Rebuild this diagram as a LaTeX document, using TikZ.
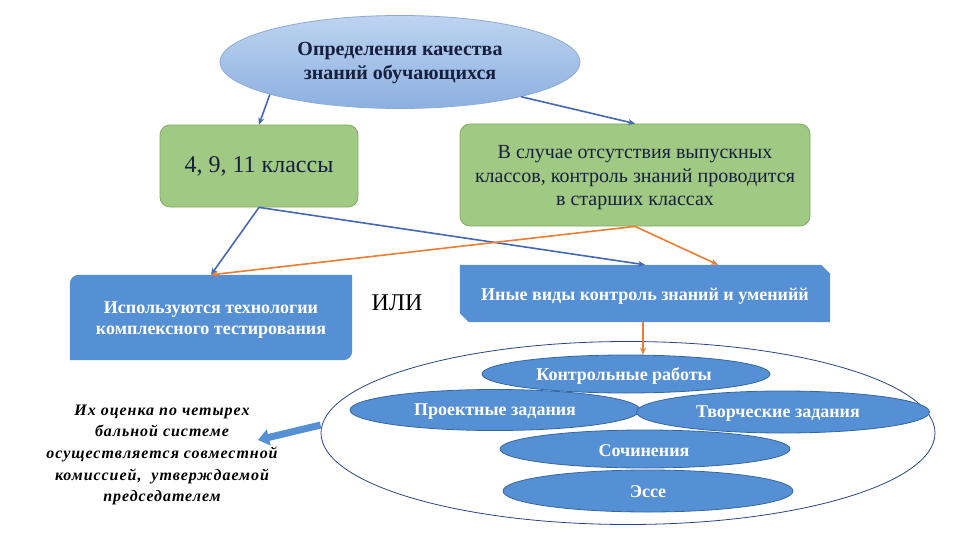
\documentclass[tikz,border=0pt]{standalone}
\usepackage{fontspec}
\setmainfont{Liberation Serif}
\usetikzlibrary{shapes.geometric,arrows.meta}
\definecolor{navy}{RGB}{22,32,62}
\definecolor{gfill}{RGB}{160,201,131}
\definecolor{gline}{RGB}{128,172,98}
\definecolor{bfill}{RGB}{86,144,212}
\definecolor{bline}{RGB}{52,102,162}
\definecolor{arblue}{RGB}{68,104,180}
\definecolor{arorange}{RGB}{237,125,49}
\definecolor{etop}{RGB}{190,212,240}
\definecolor{ebot}{RGB}{140,176,224}
\definecolor{eline}{RGB}{140,170,215}
\definecolor{bigline}{RGB}{40,70,130}
\tikzset{
  gbox/.style={draw=gline, fill=gfill, rounded corners=10pt, line width=0.8pt, inner sep=0pt, align=center, text=navy},
  ghost/.style={inner sep=0pt, minimum width=#1},
  inell/.style={ellipse, draw=bline, fill=bfill, line width=0.8pt, inner sep=0pt},
  wtxt/.style={text=white, font=\bfseries\fontsize{18}{21}\selectfont, inner sep=0pt, align=center},
  conn/.style={line width=1.6pt, -{Stealth[length=7pt,width=6pt]}},
}
\begin{document}
\begin{tikzpicture}[x=1pt,y=-1pt]
\useasboundingbox (0,0) rectangle (960,540);
\fill[white] (0,0) rectangle (960,540);

% top ellipse
\node[ellipse, draw=eline, line width=0.8pt, top color=etop, bottom color=ebot, minimum width=360pt, minimum height=93pt, inner sep=0pt] (top) at (400,62) {};
\node[text=navy, font=\bfseries\fontsize{20}{24}\selectfont, align=center, inner sep=0pt] (toptxt) at (400,63) {Определения качества\\знаний обучающихся};

% green boxes
\node[gbox, minimum width=198pt, minimum height=82pt, font=\fontsize{24}{28}\selectfont] (g1) at (259,166) {4, 9, 11 классы};
\node[gbox, minimum width=350pt, minimum height=102pt] (g2) at (635,175) {};
\node[text=navy, align=center, inner sep=0pt, font=\fontsize{20}{23.5}\selectfont] (g2t) at (635,178) {В случае отсутствия выпускных\\классов, контроль знаний проводится\\в старших классах};

% left blue box (round diagonal corners)
\node[ghost=282pt, minimum height=85pt] (lb) at (211,317.5) {};
\fill[bfill] ([xshift=9pt]lb.north west) -- (lb.north east) -- ([yshift=9pt]lb.south east) to[out=-90,in=0] ([xshift=-9pt]lb.south east) -- (lb.south west) -- ([yshift=-9pt]lb.north west) to[out=90,in=180] ([xshift=9pt]lb.north west) -- cycle;
\node[wtxt] (lbt) at (211,320) {Используются технологии\\комплексного тестирования};

% right blue box (snipped diagonal corners)
\node[ghost=370pt, minimum height=57pt] (rb) at (645,293.5) {};
\fill[bfill] (rb.north west) -- ([xshift=-9pt]rb.north east) -- ([yshift=-9pt]rb.north east) -- (rb.south east) -- ([xshift=9pt]rb.south west) -- ([yshift=9pt]rb.south west) -- cycle;
\node[wtxt] (rbt) at (645,296) {Иные виды контроль знаний и уменийй};

% ILI
\node[font=\fontsize{24}{28}\selectfont, inner sep=0pt] (ili) at (397,303) {ИЛИ};

% big ellipse
\node[ellipse, draw=bigline, line width=0.8pt, fill=white, minimum width=614pt, minimum height=183pt, inner sep=0pt] (be) at (628,433) {};

% inner ellipses
\node[inell, minimum width=288pt, minimum height=38pt] (kr) at (626,374) {};
\node[wtxt] at (624,376) {Контрольные работы};
\node[inell, minimum width=290pt, minimum height=41pt] (pz) at (495,410) {};
\node[wtxt] at (495,412) {Проектные задания};
\node[inell, minimum width=293pt, minimum height=42pt] (tz) at (783,412) {};
\node[wtxt] at (778,414) {Творческие задания};
\node[inell, minimum width=290pt, minimum height=38pt] (so) at (645,449) {};
\node[wtxt] at (644,451) {Сочинения};
\node[inell, minimum width=290pt, minimum height=42pt] (es) at (648,491) {};
\node[wtxt] at (648,492) {Эссе};

% left italic text
\node[font=\bfseries\itshape\fontsize{16}{21.7}\selectfont\addfontfeature{LetterSpace=6}, align=center, inner sep=0pt] (ev) at (162,455) {Их оценка по четырех\\бальной системе\\осуществляется совместной\\комиссией, \ утверждаемой\\председателем};

% connectors
\draw[conn, arblue] (top.194) -- (g1.north);
\draw[conn, arblue] (top.-16) -- (g2.north);
\draw[conn, arblue] (g1.south) -- (lb.north);
\draw[conn, arblue] (g1.south) -- (rb.north);
\draw[conn, arorange] (g2.south) -- (lb.north);
\draw[conn, arorange] (g2.south) -- ([xshift=73pt]rb.north);
\draw[conn, arorange] ([xshift=-2pt]rb.south) -- ([xshift=-2pt]rb.south |- kr.north);

% block arrow
\coordinate (tip) at (258,440);
\draw[line width=7pt, draw=bfill, -{Triangle[length=11pt,width=16pt]}] ([yshift=8pt]be.west) -- (tip);
\end{tikzpicture}
\end{document}
